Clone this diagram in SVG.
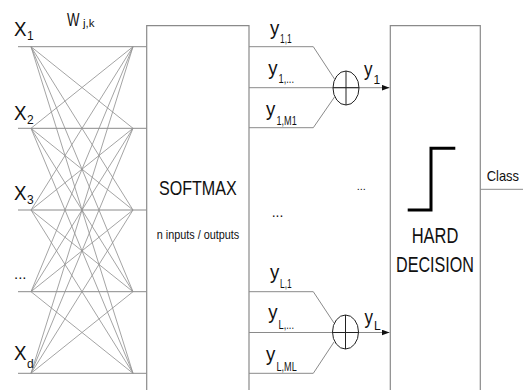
<svg xmlns="http://www.w3.org/2000/svg" width="523" height="390" viewBox="0 0 523 390">
<style>
text{font-family:"Liberation Sans",Arial,sans-serif;fill:#111}
.ln{stroke:#8a8a8a;stroke-width:1;fill:none}
.w{stroke:#939393;stroke-width:0.85;fill:none}
.box{stroke:#8a8a8a;stroke-width:1.2;fill:#fff}
.sum{stroke:#222;stroke-width:1;fill:none}
.step{stroke:#000;stroke-width:3;fill:none}
.big{font-size:19.5px}
.sub{font-size:12px}
</style>
<defs>
<marker id="ah" viewBox="0 0 8 6" refX="8" refY="3" markerWidth="8" markerHeight="6" markerUnits="userSpaceOnUse" orient="auto">
<path d="M0,0 L8,3 L0,6 Z" fill="#111"/>
</marker>
</defs>
<rect width="523" height="390" fill="#fff"/>

<g id="connectors">
<path class="ln" d="M18,46.7H146.7M18,128.3H146.7M18,210H146.7M18,291.7H146.7M18,373.3H146.7"/>
<path class="w" d="M31,46.7L133,128.3M31,46.7L133,210M31,46.7L133,291.7M31,46.7L133,373.3
M31,128.3L133,46.7M31,128.3L133,210M31,128.3L133,291.7M31,128.3L133,373.3
M31,210L133,46.7M31,210L133,128.3M31,210L133,291.7M31,210L133,373.3
M31,291.7L133,46.7M31,291.7L133,128.3M31,291.7L133,210M31,291.7L133,373.3
M31,373.3L133,46.7M31,373.3L133,128.3M31,373.3L133,210M31,373.3L133,291.7"/>
<path class="ln" d="M249,46.7H313.3L334.5,79M249,127.7H313.3L334.5,97"/>
<path class="ln" d="M249,87.7H389.5" marker-end="url(#ah)"/>
<path class="ln" d="M249,291.7H313.3L334,323M249,373.3H313.3L334,342"/>
<path class="ln" d="M249,332.5H389.5" marker-end="url(#ah)"/>
<path class="ln" d="M480.3,189.3H523"/>
</g>

<g id="inputs">
<text class="big" x="14" y="36" textLength="12.5" lengthAdjust="spacingAndGlyphs">X</text>
<text class="sub" x="27" y="39.5">1</text>
<text class="big" x="14" y="120" textLength="12.5" lengthAdjust="spacingAndGlyphs">X</text>
<text class="sub" x="27" y="123.5">2</text>
<text class="big" x="14" y="200" textLength="12.5" lengthAdjust="spacingAndGlyphs">X</text>
<text class="sub" x="27" y="203.5">3</text>
<text x="14" y="279" style="font-size:15px">...</text>
<text class="big" x="14" y="360" textLength="12.5" lengthAdjust="spacingAndGlyphs">X</text>
<text class="sub" x="27" y="368">d</text>
</g>

<g id="weights">
<text x="67" y="26" style="font-size:18.5px" textLength="12.5" lengthAdjust="spacingAndGlyphs">W</text>
<text x="83" y="26.5" style="font-size:11.5px" textLength="11.5" lengthAdjust="spacingAndGlyphs">j,k</text>
</g>

<g id="softmax">
<path class="box" d="M146.7,395V25.7H249V395"/>
<text x="159" y="195" style="font-size:21px" textLength="77.7" lengthAdjust="spacingAndGlyphs">SOFTMAX</text>
<text x="156.7" y="239" style="font-size:12.5px" textLength="82.6" lengthAdjust="spacingAndGlyphs">n inputs / outputs</text>
</g>

<g id="output-labels">
<text class="big" x="270" y="35" textLength="9.3" lengthAdjust="spacingAndGlyphs">y</text>
<text class="sub" x="280" y="43" textLength="11.7" lengthAdjust="spacingAndGlyphs">1,1</text>
<text class="big" x="268.3" y="75" textLength="9.3" lengthAdjust="spacingAndGlyphs">y</text>
<text class="sub" x="278.5" y="83" textLength="15.5" lengthAdjust="spacingAndGlyphs">1,...</text>
<text class="big" x="266" y="116" textLength="9.3" lengthAdjust="spacingAndGlyphs">y</text>
<text class="sub" x="276.5" y="124.5" textLength="20.2" lengthAdjust="spacingAndGlyphs">1,M1</text>
<text x="271.7" y="216.5" style="font-size:14px">...</text>
<text class="big" x="270" y="279.3" textLength="9.3" lengthAdjust="spacingAndGlyphs">y</text>
<text class="sub" x="280" y="288.3" textLength="11.7" lengthAdjust="spacingAndGlyphs">L,1</text>
<text class="big" x="268.3" y="319.3" textLength="9.3" lengthAdjust="spacingAndGlyphs">y</text>
<text class="sub" x="278.5" y="329" textLength="15.5" lengthAdjust="spacingAndGlyphs">L,...</text>
<text class="big" x="266" y="360.7" textLength="9.3" lengthAdjust="spacingAndGlyphs">y</text>
<text class="sub" x="276.5" y="370.5" textLength="20.2" lengthAdjust="spacingAndGlyphs">L,ML</text>
</g>

<g id="sum1">
<ellipse class="sum" cx="346" cy="88" rx="13" ry="17"/>
<path class="sum" d="M346,71V105M333,87.7H359"/>
<text class="big" x="364" y="75.5" textLength="8.5" lengthAdjust="spacingAndGlyphs">y</text>
<text class="sub" x="373.5" y="83.5">1</text>
</g>

<g id="sumL">
<ellipse class="sum" cx="345.5" cy="332" rx="13" ry="17"/>
<path class="sum" d="M345.5,315V349M332.5,332.5H358.5"/>
<text class="big" x="364.5" y="323.5" textLength="8.5" lengthAdjust="spacingAndGlyphs">y</text>
<text class="sub" x="374" y="330">L</text>
</g>

<text x="356.7" y="189.5" style="font-size:11px">...</text>

<g id="hard-decision">
<path class="box" d="M390.3,395V25.7H480.3V395"/>
<path class="step" d="M407.7,210H431V148.3H455.3"/>
<text x="411.7" y="243.3" style="font-size:22.5px" textLength="46.7" lengthAdjust="spacingAndGlyphs">HARD</text>
<text x="396" y="271.7" style="font-size:22.5px" textLength="78" lengthAdjust="spacingAndGlyphs">DECISION</text>
</g>

<g id="class">
<text x="486.7" y="180.7" style="font-size:15px" textLength="32.3" lengthAdjust="spacingAndGlyphs">Class</text>
</g>
</svg>
